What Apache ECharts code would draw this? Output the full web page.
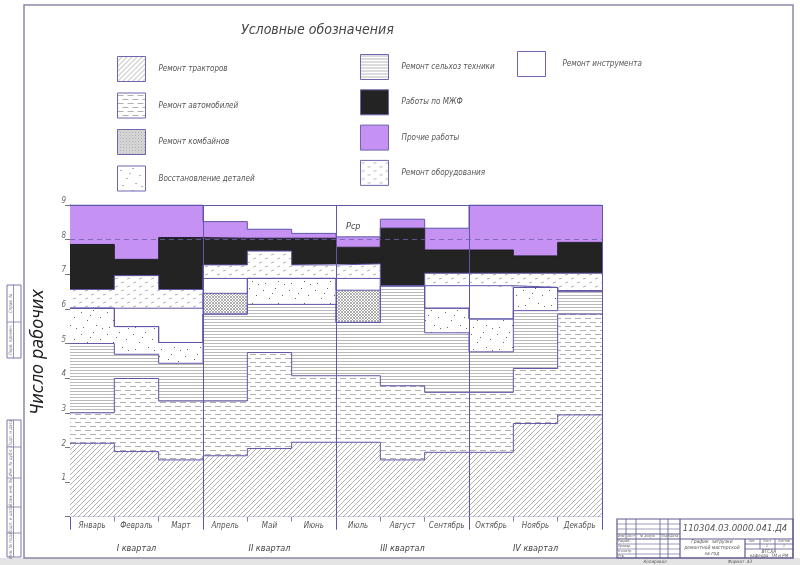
<!DOCTYPE html>
<html><head><meta charset="utf-8">
<script src="https://cdn.jsdelivr.net/npm/echarts@6/dist/echarts.min.js"></script>
<style>html,body{margin:0;padding:0;background:#fff}#c{width:800px;height:565px}</style>
</head><body><div id="c"></div>
<script>
// ---------- data ----------
const months = ['Январь','Февраль','Март','Апрель','Май','Июнь','Июль','Август','Сентябрь','Октябрь','Ноябрь','Декабрь'];
const quarters = ['I квартал','II квартал','III квартал','IV квартал'];
const yTicks = [0,1,2,3,4,5,6,7,8,9];
const names = ['Ремонт тракторов','Ремонт автомобилей','Ремонт сельхоз техники','Восстановление деталей','Ремонт комбайнов','Ремонт инструмента','Ремонт оборудования','Работы по МЖФ','Прочие работы'];
const traktory     = [2.12,1.88,1.64,1.76,1.97,2.15,2.15,1.64,1.86,1.86,2.69,2.94];
const avtomobili   = [0.88,2.11,1.70,1.58,2.77,1.92,1.92,2.14,1.73,1.73,1.59,2.91];
const selhoz       = [2.00,0.70,1.09,2.51,1.39,2.06,1.54,2.89,1.72,1.17,1.67,0.67];
const detali       = [1.02,0.80,0.60,0.00,0.75,0.75,0.00,0.00,0.71,0.95,0.67,0.00];
const kombainy     = [0.00,0.00,0.00,0.60,0.00,0.00,0.93,0.00,0.00,0.00,0.00,0.00];
const instrument   = [0.00,0.53,0.99,0.43,0.00,0.00,0.34,0.00,0.65,0.96,0.00,0.00];
const oborudovanie = [0.54,0.94,0.54,0.39,0.79,0.39,0.42,0.00,0.36,0.36,0.41,0.51];
const mzhf         = [1.30,0.47,1.50,0.77,0.37,0.77,0.48,1.66,0.67,0.67,0.50,0.89];
const prochie      = [1.14,1.57,0.94,0.48,0.26,0.14,0.30,0.26,0.63,1.30,1.47,1.08];
const averageLevel = 8;
const values = [traktory,avtomobili,selhoz,detali,kombainy,instrument,oborudovanie,mzhf,prochie];

// ---------- fill patterns ----------
function pat(w,h,draw){
  const c=document.createElement('canvas');c.width=w;c.height=h;
  const g=c.getContext('2d');g.fillStyle='#fff';g.fillRect(0,0,w,h);
  g.strokeStyle='#9c9c9c';g.fillStyle='#666';g.lineWidth=0.8;draw(g,w,h);
  return {image:c,repeat:'repeat'};
}
const fills = [
  pat(5,5,(g)=>{g.beginPath();g.moveTo(0,5);g.lineTo(5,0);g.moveTo(-1,1);g.lineTo(1,-1);g.moveTo(4,6);g.lineTo(6,4);g.stroke();}),
  pat(10,8,(g)=>{g.beginPath();g.moveTo(0,2.5);g.lineTo(6,2.5);g.moveTo(5,6.5);g.lineTo(10,6.5);g.moveTo(0,6.5);g.lineTo(1,6.5);g.stroke();}),
  pat(4,3,(g)=>{g.strokeStyle='#a8a8a8';g.beginPath();g.moveTo(0,1.5);g.lineTo(4,1.5);g.stroke();}),
  pat(26,22,(g)=>{[[3,4],[15,2],[22,9],[9,12],[18,17],[5,19],[12,7],[24,20]].forEach(p=>g.fillRect(p[0],p[1],1,1));}),
  pat(3,3,(g)=>{g.strokeStyle='#8c8c8c';g.lineWidth=0.7;g.beginPath();g.moveTo(0,0);g.lineTo(3,3);g.moveTo(3,0);g.lineTo(0,3);g.stroke();}),
  '#ffffff',
  pat(12,8,(g)=>{g.strokeStyle='#a0a0a0';g.beginPath();g.moveTo(1,3);g.lineTo(4,2);g.moveTo(7,7);g.lineTo(10,6);g.stroke();}),
  '#232323',
  '#c592f3'
];
const edge = '#5e56a8';
// month boundaries 0..12 for the stepped areas (hidden axis)
const bounds = months.map((m,i)=>String(i)).concat([String(months.length)]);
function stepData(arr){return arr.concat([arr[arr.length-1]]);}

const font = "'Liberation Sans Narrow','DejaVu Sans Condensed','Noto Sans',sans-serif";

const series = names.map((n,k)=>({
  type:'line', name:n, stack:'total', step:'end', xAxisIndex:0, yAxisIndex:0,
  symbol:'none', showSymbol:false, silent:true, animation:false,
  data: stepData(values[k]),
  lineStyle:{color: k===7 ? '#1c1c2a' : edge, width:1},
  itemStyle:{color: edge},
  areaStyle:{color: fills[k], opacity:1},
  emphasis:{disabled:true}
}));
series[0].markLine = {
  silent:true, symbol:['none','none'], label:{show:false}, animation:false,
  lineStyle:{color:edge,width:1,type:'solid'},
  data:[{xAxis:3},{xAxis:6},{xAxis:9},{xAxis:12},{yAxis:9},
        {yAxis:averageLevel,lineStyle:{type:[5,4],color:'#6e5fb0',width:0.8}}]
};

function legItem(i){return {name:names[i],icon:'rect',itemStyle:{color:fills[i],borderColor:'#6d67b0',borderWidth:1}};}
const legBase = {orient:'vertical',itemWidth:28,itemHeight:25,selectedMode:false,
  textStyle:{fontFamily:font,fontStyle:'italic',fontSize:8,color:'#555',padding:[0,0,0,8]}};

const chart = echarts.init(document.getElementById('c'),null,{renderer:'canvas'});

const G = [];
// frame
G.push({type:'rect',shape:{x:0,y:558,width:800,height:7},style:{fill:'#e4e4e4'},silent:true});
G.push({type:'rect',shape:{x:24,y:5,width:769,height:553},style:{fill:'none',stroke:'#8c88a8',lineWidth:1.5},silent:true});
// left stamps
function stamp(y0,y1,lines,texts){
  G.push({type:'rect',shape:{x:7,y:y0,width:14,height:y1-y0},style:{fill:'none',stroke:'#7c78a8',lineWidth:1}});
  G.push({type:'line',shape:{x1:13.5,y1:y0,x2:13.5,y2:y1},style:{stroke:'#7c78a8',lineWidth:0.8}});
  const ys=[y0].concat(lines).concat([y1]);
  lines.forEach(y=>G.push({type:'line',shape:{x1:7,y1:y,x2:21,y2:y},style:{stroke:'#7c78a8',lineWidth:0.8}}));
  texts.forEach((t,i)=>G.push({type:'text',x:10.5,y:(ys[i]+ys[i+1])/2,rotation:Math.PI/2,
    style:{text:t,fontSize:4.5,fontFamily:font,fontStyle:'italic',fill:'#777',align:'center',verticalAlign:'middle'}}));
}
stamp(285,358,[322],['Справ. №','Перв. примен.']);
stamp(420,557,[447,478,507,533],['Подп. и дата','Инв. № дубл.','Взам. инв. №','Подп. и дата','Инв. № подл.']);
// titles
G.push({type:'text',x:241,y:30,style:{text:'Условные обозначения',fontSize:14,fontFamily:font,fontStyle:'italic',fill:'#444',verticalAlign:'middle'}});
G.push({type:'text',x:38,y:352,rotation:Math.PI/2,style:{text:'Число рабочих',fontSize:18,fontFamily:font,fontStyle:'italic',fill:'#222',align:'center',verticalAlign:'middle'}});
G.push({type:'text',x:346,y:227,style:{text:'Рср',fontSize:9,fontFamily:font,fontStyle:'italic',fill:'#444',verticalAlign:'middle'}});
// title block
const tb='#5e5a8e';
function L(x1,y1,x2,y2,w){G.push({type:'line',shape:{x1,y1,x2,y2},style:{stroke:tb,lineWidth:w||0.8}});}
function T(x,y,t,fs,al){G.push({type:'text',x,y,style:{text:t,fontSize:fs,fontFamily:font,fontStyle:'italic',fill:'#555',align:al||'left',verticalAlign:'middle',lineHeight:fs+1}});}
G.push({type:'rect',shape:{x:617,y:519,width:176,height:39},style:{fill:'none',stroke:tb,lineWidth:1.2}});
[626,636,660,668].forEach(x=>L(x,519,x,539));
L(636,539,636,558);L(660,539,660,558);L(668,539,668,558);
L(680,519,680,558,1.2);
[524,529,534,539,544,549,554].forEach(y=>L(617,y,680,y,y===534||y===539?1:0.6));
T(618,536.5,'Изм.',3.5);T(627,536.5,'Лист',3.5);T(640,536.5,'№ докум.',3.5);T(661,536.5,'Подп.',3.5);T(670,536.5,'Дата',3.5);
T(618,541.5,'Разраб.',3.5);T(618,546.5,'Провер.',3.5);T(618,551.5,'Н.контр.',3.5);T(618,556,'Утв.',3.5);
T(735,529,'110304.03.0000.041.Д4',9.5,'center');
L(680,539,793,539,1.2);L(745,539,745,558,1.2);
L(745,544,793,544);L(745,549,793,549);L(760,539,760,549);L(775,539,775,549);
T(752,541.5,'Лит.',3.5,'center');T(767,541.5,'Лист',3.5,'center');T(784,541.5,'Листов',3.5,'center');
T(767,546.5,'1',3.5,'center');T(784,546.5,'1',3.5,'center');
T(712,548,'График  загрузки\nремонтной мастерской\nза год',5,'center');
T(769,551.5,'ВГСХА',5,'center');T(769,556,'кафедра  ТМ и РМ',4.5,'center');
T(655,562,'Копировал',4.5,'center');T(740,562,'Формат  А3',4.5,'center');

chart.setOption({
  backgroundColor:'#fff',
  animation:false,
  grid:{left:70,right:198,top:205,bottom:48.3,containLabel:false},
  legend:[
    Object.assign({},legBase,{left:112,top:51,itemGap:10.5,data:[0,1,4,3].map(legItem)}),
    Object.assign({},legBase,{left:355,top:49,itemGap:9.3,data:[2,7,8,6].map(legItem)}),
    Object.assign({},legBase,{left:512,top:46,data:[5].map(legItem),textStyle:Object.assign({},legBase.textStyle,{padding:[0,0,6,12]})})
  ],
  xAxis:[
    {type:'category',data:bounds,boundaryGap:false,show:false},
    {type:'category',data:months,position:'bottom',boundaryGap:true,
     axisLine:{show:true,lineStyle:{color:edge,width:1}},
     axisTick:{show:true,length:5,lineStyle:{color:'#8884b0'}},
     axisLabel:{interval:0,margin:5,fontSize:8,fontFamily:font,fontStyle:'italic',color:'#555'}},
    {type:'category',data:quarters,position:'bottom',boundaryGap:true,
     axisLine:{show:false},
     axisTick:{show:true,length:13,lineStyle:{color:edge,width:1}},
     axisLabel:{interval:0,margin:27,fontSize:9,fontFamily:font,fontStyle:'italic',color:'#444'}}
  ],
  yAxis:[{type:'value',min:yTicks[0],max:yTicks[yTicks.length-1],interval:1,
    axisLine:{show:true,lineStyle:{color:edge,width:1}},
    axisTick:{show:true,length:5,lineStyle:{color:'#777'}},
    splitLine:{show:false},
    axisLabel:{margin:4,fontSize:8,fontFamily:font,fontStyle:'italic',color:'#666',verticalAlign:'bottom',
      formatter:v=>v===0?'':String(v)}}],
  series:series,
  graphic:G
});
</script></body></html>
